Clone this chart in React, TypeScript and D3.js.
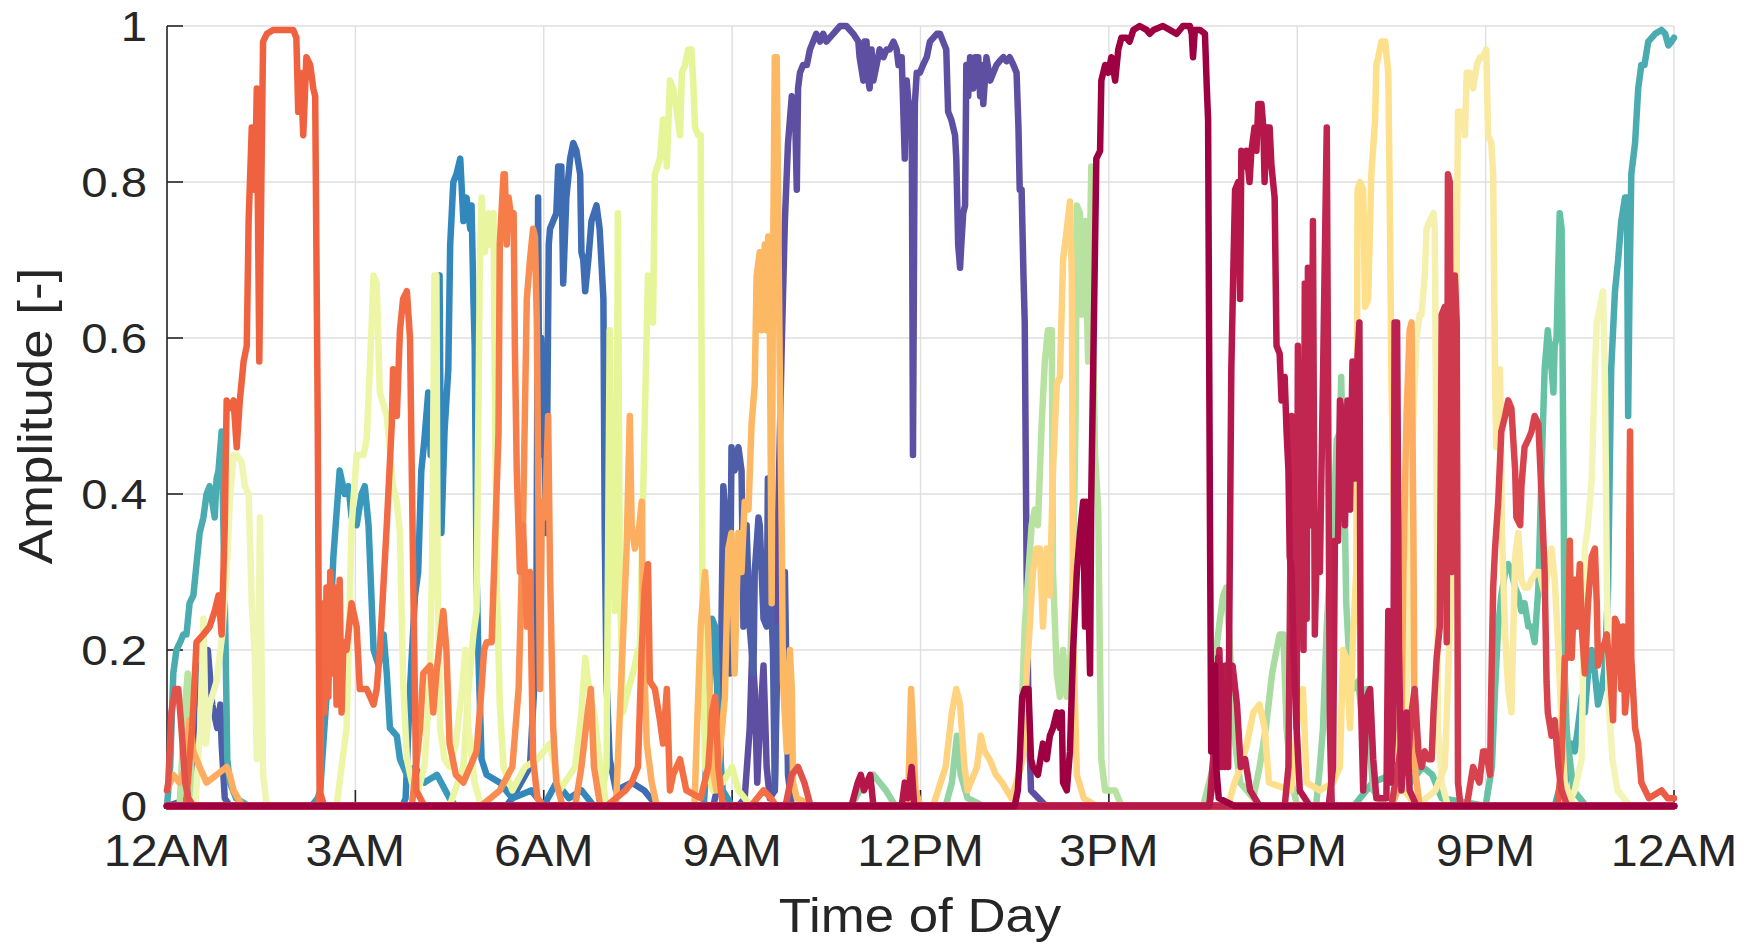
import React from 'react';
import * as d3 from 'd3';

const W = 1754;
const H = 944;
const PLOT = { left: 167, right: 1674, top: 26, bottom: 806 };

const xTicks = [0, 3, 6, 9, 12, 15, 18, 21, 24];
const xTickLabels = ['12AM', '3AM', '6AM', '9AM', '12PM', '3PM', '6PM', '9PM', '12AM'];
const yTicks = [0, 0.2, 0.4, 0.6, 0.8, 1];
const yTickLabels = ['0', '0.2', '0.4', '0.6', '0.8', '1'];

// Each series: flat list of [hour, amplitude] pairs
const sN = [0,0, 9.1,0, 9.2,0.01, 9.28,0.1, 9.32,0.2, 9.36,0.15, 9.4,0.03, 9.44,0.1, 9.5,0.18, 9.55,0.05, 9.6,0.01, 9.68,0.02, 9.73,0.36, 9.79,0.59, 9.84,0.75, 9.89,0.85, 9.95,0.91, 10.0,0.9, 10.03,0.79, 10.05,0.92, 10.08,0.94, 10.13,0.95, 10.19,0.95, 10.24,0.97, 10.29,0.98, 10.34,0.99, 10.4,0.98, 10.45,0.99, 10.5,0.98, 10.61,0.99, 10.72,1.0, 10.82,1.0, 10.93,0.99, 11.01,0.98, 11.03,0.96, 11.09,0.93, 11.11,0.98, 11.14,0.98, 11.17,0.93, 11.19,0.92, 11.22,0.97, 11.25,0.93, 11.3,0.95, 11.35,0.97, 11.41,0.96, 11.46,0.97, 11.51,0.97, 11.57,0.98, 11.62,0.97, 11.65,0.95, 11.67,0.96, 11.7,0.96, 11.75,0.83, 11.78,0.93, 11.83,0.88, 11.86,0.9, 11.88,0.45, 11.91,0.9, 11.94,0.94, 11.99,0.94, 12.04,0.95, 12.1,0.96, 12.15,0.98, 12.26,0.99, 12.31,0.99, 12.36,0.98, 12.41,0.97, 12.44,0.89, 12.49,0.88, 12.55,0.86, 12.57,0.83, 12.6,0.72, 12.63,0.69, 12.65,0.72, 12.68,0.76, 12.71,0.77, 12.73,0.95, 12.76,0.91, 12.79,0.96, 12.84,0.92, 12.87,0.96, 12.92,0.96, 12.95,0.91, 12.97,0.95, 13.0,0.9, 13.05,0.96, 13.11,0.93, 13.16,0.94, 13.21,0.95, 13.26,0.955, 13.32,0.96, 13.37,0.955, 13.42,0.96, 13.48,0.95, 13.53,0.94, 13.56,0.87, 13.58,0.79, 13.61,0.79, 13.64,0.68, 13.66,0.62, 13.69,0.3, 13.72,0.12, 13.76,0.02, 14.0,0, 24,0];
const sM = [0,0, 0.4,0.01, 0.45,0.17, 0.5,0.18, 0.55,0.12, 0.65,0.2, 0.72,0.13, 0.8,0.1, 0.85,0.13, 0.87,0.08, 0.92,0.01, 1.0,0, 8.7,0, 8.81,0.04, 8.83,0.23, 8.86,0.41, 8.91,0.36, 8.96,0.17, 8.99,0.46, 9.04,0.43, 9.1,0.46, 9.15,0.43, 9.18,0.23, 9.23,0.36, 9.28,0.23, 9.34,0.17, 9.36,0.3, 9.42,0.37, 9.44,0.36, 9.5,0.24, 9.55,0.23, 9.57,0.42, 9.6,0.3, 9.65,0.2, 9.68,0.02, 9.73,0.23, 9.79,0.23, 9.84,0.3, 9.89,0.04, 9.95,0, 24,0];
const sK = [0,0, 5.4,0, 5.5,0.01, 5.78,0.05, 5.88,0.2, 5.91,0.78, 5.93,0.45, 5.96,0.6, 6.0,0.5, 6.04,0.35, 6.08,0.72, 6.1,0.74, 6.15,0.75, 6.2,0.76, 6.23,0.82, 6.28,0.82, 6.31,0.67, 6.36,0.78, 6.42,0.83, 6.47,0.85, 6.52,0.84, 6.58,0.81, 6.6,0.71, 6.63,0.7, 6.66,0.66, 6.71,0.7, 6.76,0.75, 6.84,0.77, 6.89,0.74, 6.95,0.65, 6.97,0.36, 7.0,0.16, 7.05,0.06, 7.15,0.02, 7.4,0.03, 7.6,0.02, 7.8,0, 24,0];
const sF = [0,0, 3.75,0, 3.8,0.01, 3.87,0.15, 3.95,0.27, 4.0,0.3, 4.05,0.43, 4.1,0.47, 4.16,0.53, 4.2,0.45, 4.28,0.5, 4.34,0.68, 4.37,0.35, 4.42,0.48, 4.48,0.56, 4.51,0.72, 4.56,0.8, 4.61,0.81, 4.67,0.83, 4.72,0.75, 4.77,0.78, 4.83,0.74, 4.85,0.77, 4.88,0.65, 4.9,0.59, 4.93,0.3, 4.96,0.19, 5.01,0.06, 5.09,0.04, 5.3,0.03, 5.5,0.01, 5.8,0.02, 6.0,0.0, 6.2,0.03, 6.4,0.01, 6.6,0.02, 6.8,0, 24,0];
const sBB = [0,0, 2.3,0, 2.4,0.01, 2.44,0.02, 2.54,0.14, 2.6,0.23, 2.65,0.32, 2.75,0.43, 2.83,0.4, 2.89,0.41, 2.94,0.37, 3.02,0.36, 3.1,0.4, 3.15,0.41, 3.21,0.36, 3.29,0.2, 3.37,0.18, 3.45,0.22, 3.5,0.17, 3.55,0.1, 3.66,0.09, 3.71,0.06, 3.82,0.04, 3.95,0.05, 4.1,0.03, 4.3,0.04, 4.5,0.01, 4.6,0, 8.55,0, 8.62,0.1, 8.68,0.24, 8.73,0.23, 8.78,0.1, 8.85,0.02, 9.0,0, 24,0];
const sA = [0,0, 0.05,0.05, 0.1,0.17, 0.15,0.2, 0.21,0.21, 0.26,0.22, 0.31,0.22, 0.36,0.26, 0.42,0.27, 0.47,0.31, 0.52,0.35, 0.58,0.37, 0.63,0.4, 0.68,0.41, 0.72,0.39, 0.76,0.37, 0.79,0.42, 0.82,0.43, 0.87,0.48, 0.9,0.35, 0.93,0.22, 0.96,0.06, 1.0,0.03, 1.1,0.01, 1.3,0, 22.1,0, 22.2,0.03, 22.26,0.02, 22.31,0.06, 22.37,0.08, 22.42,0.07, 22.47,0.1, 22.53,0.14, 22.58,0.12, 22.63,0.17, 22.69,0.2, 22.74,0.17, 22.79,0.13, 22.85,0.15, 22.9,0.18, 22.95,0.28, 22.98,0.45, 23.0,0.56, 23.06,0.66, 23.11,0.7, 23.16,0.75, 23.22,0.78, 23.25,0.78, 23.27,0.5, 23.29,0.65, 23.32,0.81, 23.38,0.85, 23.43,0.92, 23.48,0.95, 23.53,0.95, 23.59,0.98, 23.7,0.99, 23.8,0.995, 23.86,0.99, 23.91,0.975, 23.96,0.98, 24.0,0.985];
const sAB = [0,0, 18.9,0, 19.2,0.03, 19.5,0.04, 19.7,0.02, 20.0,0.05, 20.15,0.04, 20.3,0.01, 21.0,0, 21.1,0.05, 21.15,0.15, 21.2,0.23, 21.25,0.27, 21.31,0.3, 21.36,0.31, 21.41,0.3, 21.47,0.28, 21.52,0.27, 21.57,0.25, 21.62,0.26, 21.68,0.23, 21.73,0.23, 21.78,0.21, 21.84,0.28, 21.89,0.43, 21.94,0.56, 21.99,0.61, 22.05,0.56, 22.08,0.53, 22.1,0.59, 22.13,0.6, 22.16,0.7, 22.18,0.76, 22.21,0.74, 22.24,0.42, 22.26,0.17, 22.29,0.1, 22.31,0.08, 22.4,0.02, 22.6,0, 24,0];
const sT = [0,0, 10.9,0, 11.1,0.03, 11.25,0.04, 11.35,0.03, 11.45,0.02, 11.6,0, 12.4,0, 12.5,0.03, 12.58,0.09, 12.64,0.04, 12.75,0.01, 13.0,0, 18.3,0, 18.36,0.05, 18.41,0.1, 18.47,0.23, 18.52,0.3, 18.57,0.36, 18.63,0.47, 18.68,0.48, 18.7,0.55, 18.73,0.42, 18.76,0.36, 18.78,0.26, 18.84,0.17, 18.89,0.15, 18.97,0.16, 19.05,0.1, 19.1,0.15, 19.16,0.07, 19.21,0.02, 19.4,0, 24,0];
const sU = [0,0, 16.5,0, 16.66,0.05, 16.71,0.2, 16.77,0.24, 16.82,0.27, 16.87,0.28, 16.93,0.2, 16.98,0.1, 17.09,0.03, 17.3,0.01, 17.4,0.05, 17.5,0.1, 17.6,0.17, 17.67,0.2, 17.72,0.22, 17.78,0.22, 17.83,0.1, 17.91,0.03, 18.0,0, 24,0];
const sP = [0,0, 0.2,0, 0.28,0.12, 0.33,0.17, 0.38,0.05, 0.45,0, 13.5,0, 13.58,0.05, 13.66,0.23, 13.72,0.3, 13.77,0.36, 13.82,0.38, 13.87,0.36, 13.93,0.49, 13.98,0.57, 14.03,0.61, 14.09,0.61, 14.11,0.3, 14.17,0.17, 14.22,0.14, 14.27,0.2, 14.33,0.14, 14.38,0.17, 14.43,0.3, 14.47,0.5, 14.49,0.77, 14.54,0.76, 14.57,0.63, 14.62,0.75, 14.67,0.57, 14.72,0.82, 14.75,0.6, 14.78,0.45, 14.83,0.38, 14.86,0.17, 14.88,0.06, 14.94,0.02, 15.1,0.02, 15.2,0, 24,0];
const sH = [0,0, 6.9,0, 7.0,0.05, 7.05,0.61, 7.08,0.4, 7.13,0.25, 7.16,0.35, 7.18,0.76, 7.21,0.3, 7.26,0.12, 7.35,0.15, 7.45,0.18, 7.5,0.2, 7.53,0.2, 7.58,0.39, 7.66,0.68, 7.72,0.65, 7.74,0.62, 7.77,0.81, 7.85,0.83, 7.9,0.88, 7.96,0.82, 8.01,0.93, 8.06,0.92, 8.12,0.89, 8.17,0.86, 8.2,0.94, 8.25,0.95, 8.3,0.97, 8.35,0.97, 8.38,0.93, 8.41,0.87, 8.46,0.86, 8.5,0.86, 8.53,0.22, 8.57,0.05, 8.7,0.02, 8.85,0.03, 9.0,0.05, 9.1,0.02, 9.3,0, 24,0];
const sG = [0,0, 4.5,0, 4.72,0.05, 4.8,0.15, 4.88,0.22, 4.93,0.25, 4.98,0.68, 5.01,0.78, 5.06,0.71, 5.12,0.76, 5.14,0.72, 5.2,0.76, 5.22,0.55, 5.25,0.29, 5.3,0.13, 5.36,0.05, 5.5,0.02, 5.7,0.05, 5.9,0.06, 6.1,0.08, 6.25,0.02, 6.5,0.05, 6.6,0.12, 6.66,0.19, 6.72,0.15, 6.8,0.12, 6.9,0.05, 7.0,0, 24,0];
const sE = [0,0, 2.7,0, 2.86,0.1, 2.94,0.36, 3.02,0.45, 3.13,0.45, 3.18,0.47, 3.23,0.56, 3.29,0.68, 3.34,0.67, 3.39,0.53, 3.5,0.5, 3.6,0.41, 3.66,0.39, 3.71,0.35, 3.76,0.16, 3.82,0.06, 3.9,0.03, 4.0,0.02, 4.1,0.05, 4.18,0.15, 4.22,0.3, 4.26,0.68, 4.29,0.68, 4.31,0.3, 4.35,0.1, 4.42,0.06, 4.5,0.05, 4.6,0.08, 4.7,0.15, 4.75,0.2, 4.8,0.1, 4.9,0.03, 5.0,0, 24,0];
const sD = [0,0, 0.45,0, 0.53,0.1, 0.58,0.24, 0.62,0.08, 0.68,0.13, 0.79,0.16, 0.88,0.22, 0.95,0.3, 1.0,0.39, 1.06,0.45, 1.11,0.45, 1.19,0.44, 1.24,0.41, 1.3,0.4, 1.35,0.26, 1.4,0.19, 1.43,0.06, 1.46,0.2, 1.48,0.37, 1.51,0.16, 1.53,0.04, 1.59,0, 24,0];
const sAC = [0,0, 22.3,0, 22.42,0.02, 22.53,0.06, 22.58,0.33, 22.63,0.36, 22.69,0.42, 22.74,0.56, 22.77,0.62, 22.82,0.64, 22.87,0.66, 22.9,0.55, 22.93,0.29, 22.96,0.13, 23.02,0.06, 23.1,0.02, 23.3,0, 24,0];
const sX = [0,0, 19.5,0, 19.65,0.05, 19.75,0.15, 19.8,0.35, 19.85,0.5, 19.9,0.6, 19.95,0.63, 19.98,0.63, 20.03,0.68, 20.06,0.74, 20.11,0.75, 20.17,0.76, 20.19,0.74, 20.22,0.39, 20.24,0.1, 20.3,0.03, 20.4,0, 24,0];
const sY = [0,0, 19.9,0, 20.2,0.02, 20.35,0.05, 20.4,0.16, 20.46,0.3, 20.51,0.42, 20.56,0.89, 20.62,0.89, 20.67,0.86, 20.7,0.94, 20.75,0.94, 20.8,0.92, 20.86,0.95, 20.91,0.96, 20.96,0.96, 21.01,0.97, 21.04,0.86, 21.09,0.85, 21.12,0.81, 21.15,0.55, 21.17,0.46, 21.23,0.56, 21.26,0.35, 21.31,0.22, 21.36,0.15, 21.41,0.12, 21.47,0.32, 21.52,0.35, 21.57,0.29, 21.62,0.28, 21.68,0.28, 21.73,0.29, 21.81,0.3, 21.86,0.3, 21.94,0.27, 21.99,0.3, 22.05,0.33, 22.1,0.29, 22.16,0.2, 22.21,0.1, 22.26,0.03, 22.4,0, 24,0];
const sV = [0,0, 16.9,0, 17.0,0.03, 17.1,0.05, 17.2,0.08, 17.3,0.12, 17.4,0.13, 17.48,0.1, 17.55,0.03, 17.9,0.02, 18.04,0.14, 18.09,0.15, 18.15,0.03, 18.36,0.02, 18.57,0.03, 18.68,0.05, 18.73,0.2, 18.78,0.19, 18.84,0.1, 18.89,0.22, 18.94,0.3, 18.96,0.79, 19.0,0.8, 19.05,0.79, 19.08,0.64, 19.13,0.65, 19.18,0.81, 19.24,0.88, 19.26,0.95, 19.29,0.96, 19.34,0.98, 19.4,0.98, 19.45,0.94, 19.47,0.8, 19.5,0.55, 19.53,0.41, 19.58,0.2, 19.62,0.06, 19.7,0.02, 19.9,0, 24,0];
const sQ = [0,0, 12.2,0, 12.4,0.05, 12.5,0.12, 12.57,0.15, 12.63,0.13, 12.7,0.05, 12.75,0.02, 12.9,0.05, 12.96,0.09, 13.02,0.07, 13.1,0.06, 13.2,0.04, 13.3,0.03, 13.45,0.01, 13.6,0.05, 13.64,0.07, 13.69,0.17, 13.74,0.23, 13.79,0.3, 13.85,0.33, 13.9,0.33, 13.95,0.23, 14.01,0.33, 14.06,0.27, 14.11,0.43, 14.17,0.54, 14.22,0.55, 14.27,0.7, 14.33,0.74, 14.38,0.775, 14.41,0.68, 14.43,0.23, 14.49,0.04, 14.6,0.01, 14.8,0, 24,0];
const sO = [0,0, 8.4,0, 8.45,0.12, 8.5,0.23, 8.57,0.3, 8.62,0.22, 8.68,0.05, 8.75,0.02, 8.885,0.14, 8.94,0.33, 8.99,0.35, 9.04,0.17, 9.1,0.35, 9.15,0.3, 9.2,0.39, 9.26,0.38, 9.31,0.49, 9.36,0.54, 9.39,0.68, 9.44,0.71, 9.47,0.61, 9.52,0.72, 9.55,0.61, 9.575,0.73, 9.6,0.62, 9.63,0.26, 9.65,0.68, 9.68,0.96, 9.71,0.96, 9.73,0.8, 9.76,0.55, 9.79,0.35, 9.81,0.16, 9.87,0.07, 9.89,0.15, 9.92,0.2, 9.95,0.15, 9.97,0.03, 10.03,0.01, 10.3,0, 11.8,0, 11.85,0.15, 11.88,0.1, 11.92,0.02, 12.0,0, 24,0];
const sL = [0,0, 7.15,0, 7.27,0.23, 7.32,0.33, 7.37,0.5, 7.4,0.36, 7.45,0.33, 7.51,0.35, 7.56,0.39, 7.58,0.23, 7.64,0.08, 7.72,0.03, 7.8,0, 24,0];
const sW = [0,0.02, 0.1,0.04, 0.2,0.03, 0.3,0.05, 0.36,0.11, 0.42,0.07, 0.52,0.05, 0.63,0.03, 0.95,0.05, 1.0,0.04, 1.06,0.02, 1.2,0, 19.5,0, 19.6,0.02, 19.66,0.1, 19.69,0.3, 19.74,0.5, 19.79,0.61, 19.82,0.62, 19.85,0.35, 19.87,0.05, 19.95,0, 24,0];
const sJ = [0,0, 5.0,0, 5.3,0.02, 5.5,0.05, 5.6,0.15, 5.67,0.36, 5.73,0.65, 5.78,0.7, 5.83,0.74, 5.86,0.73, 5.89,0.62, 5.91,0.43, 5.94,0.15, 5.97,0.39, 6.02,0.37, 6.07,0.5, 6.1,0.3, 6.15,0.1, 6.2,0.03, 6.3,0, 6.5,0, 6.6,0.05, 6.7,0.12, 6.75,0.15, 6.8,0.05, 6.9,0, 24,0];
const sI = [0,0, 3.9,0, 4.03,0.1, 4.08,0.17, 4.19,0.18, 4.24,0.12, 4.29,0.17, 4.4,0.25, 4.45,0.2, 4.5,0.08, 4.6,0.04, 4.72,0.03, 4.93,0.07, 5.0,0.14, 5.05,0.2, 5.09,0.21, 5.17,0.21, 5.22,0.33, 5.28,0.48, 5.3,0.72, 5.36,0.81, 5.38,0.81, 5.41,0.72, 5.44,0.78, 5.49,0.75, 5.52,0.76, 5.54,0.59, 5.57,0.43, 5.62,0.3, 5.67,0.36, 5.73,0.23, 5.78,0.3, 5.83,0.06, 5.9,0.01, 6.0,0, 24,0];
const sAF = [0,0, 7.0,0, 7.3,0.02, 7.4,0.03, 7.5,0.05, 7.56,0.2, 7.61,0.28, 7.66,0.31, 7.69,0.16, 7.77,0.15, 7.85,0.11, 7.9,0.08, 7.96,0.15, 8.01,0.02, 8.06,0.04, 8.17,0.06, 8.27,0.02, 8.5,0.01, 8.62,0.05, 8.68,0.12, 8.73,0.14, 8.78,0.05, 8.85,0, 9.3,0, 9.5,0.02, 9.62,0.01, 9.7,0, 24,0];
const sC = [0,0, 2.4,0, 2.44,0.02, 2.47,0.23, 2.49,0.26, 2.51,0.12, 2.54,0.28, 2.57,0.14, 2.6,0.3, 2.63,0.17, 2.67,0.28, 2.7,0.13, 2.75,0.29, 2.78,0.12, 2.81,0.21, 2.86,0.2, 2.94,0.26, 3.02,0.23, 3.07,0.15, 3.18,0.15, 3.29,0.13, 3.34,0.15, 3.39,0.2, 3.5,0.36, 3.58,0.49, 3.6,0.56, 3.66,0.5, 3.71,0.61, 3.76,0.65, 3.82,0.66, 3.87,0.6, 3.92,0.3, 3.97,0.02, 4.1,0, 24,0];
const sB = [0,0, 0.3,0, 0.4,0.1, 0.42,0.13, 0.47,0.21, 0.58,0.22, 0.68,0.23, 0.76,0.25, 0.82,0.27, 0.87,0.22, 0.92,0.36, 0.95,0.52, 1.0,0.51, 1.06,0.52, 1.11,0.46, 1.16,0.52, 1.22,0.57, 1.27,0.59, 1.3,0.75, 1.35,0.87, 1.4,0.79, 1.43,0.92, 1.47,0.57, 1.5,0.78, 1.53,0.98, 1.59,0.99, 1.69,0.995, 1.91,0.995, 2.01,0.995, 2.06,0.985, 2.09,0.89, 2.12,0.94, 2.14,0.92, 2.17,0.86, 2.22,0.96, 2.28,0.95, 2.33,0.92, 2.36,0.91, 2.4,0.5, 2.43,0.02, 2.5,0, 24,0];
const sAD = [0,0, 22.15,0, 22.21,0.06, 22.26,0.19, 22.31,0.19, 22.34,0.34, 22.37,0.19, 22.42,0.29, 22.45,0.23, 22.5,0.31, 22.53,0.23, 22.58,0.17, 22.63,0.26, 22.69,0.32, 22.74,0.33, 22.77,0.26, 22.79,0.18, 22.85,0.2, 22.9,0.21, 22.93,0.22, 22.98,0.17, 23.03,0.11, 23.06,0.24, 23.11,0.23, 23.16,0.15, 23.19,0.23, 23.22,0.12, 23.27,0.17, 23.3,0.48, 23.32,0.19, 23.38,0.1, 23.43,0.08, 23.48,0.03, 23.6,0.01, 23.8,0.02, 23.9,0.01, 24,0.01];
const sEA = [0,0.02, 0.02,0.03, 0.07,0.12, 0.13,0.15, 0.18,0.15, 0.23,0.1, 0.29,0.03, 0.34,0.01, 0.42,0, 9.85,0, 9.95,0.04, 10.05,0.05, 10.15,0.03, 10.25,0, 24,0];
const sAA = [0,0, 20.7,0, 20.8,0.05, 20.9,0.03, 20.96,0.07, 21.01,0.07, 21.07,0.04, 21.09,0.15, 21.12,0.28, 21.15,0.33, 21.2,0.39, 21.25,0.48, 21.31,0.5, 21.36,0.52, 21.41,0.51, 21.47,0.43, 21.49,0.37, 21.55,0.36, 21.57,0.41, 21.62,0.46, 21.68,0.47, 21.73,0.48, 21.78,0.5, 21.84,0.49, 21.89,0.4, 21.94,0.3, 21.97,0.16, 21.99,0.12, 22.05,0.09, 22.1,0.11, 22.16,0.05, 22.21,0.02, 22.3,0, 24,0];
const sZ = [0,0, 19.5,0, 19.6,0.05, 19.7,0.1, 19.76,0.05, 19.82,0.12, 19.87,0.15, 19.93,0.07, 19.98,0.05, 20.03,0.07, 20.09,0.06, 20.14,0.06, 20.17,0.12, 20.22,0.19, 20.27,0.23, 20.3,0.63, 20.35,0.64, 20.38,0.21, 20.4,0.81, 20.43,0.8, 20.46,0.3, 20.51,0.68, 20.54,0.62, 20.56,0.03, 20.6,0, 24,0];
const sS3 = [0,0, 16.6,0, 16.7,0.1, 16.76,0.2, 16.8,0.05, 16.86,0.18, 16.92,0.15, 16.97,0.18, 17.04,0.13, 17.1,0.05, 17.17,0.06, 17.25,0.02, 17.4,0, 18.5,0, 18.57,0.05, 18.6,0.34, 18.65,0.34, 18.68,0.52, 18.72,0.5, 18.76,0.36, 18.8,0.52, 18.84,0.38, 18.88,0.57, 18.92,0.42, 18.95,0.56, 18.99,0.62, 19.01,0.15, 19.05,0.02, 19.11,0.14, 19.16,0.15, 19.21,0.06, 19.26,0.01, 19.42,0.01, 19.45,0.25, 19.49,0.03, 19.53,0.1, 19.55,0.62, 19.59,0.62, 19.62,0.2, 19.66,0.02, 19.74,0.12, 19.79,0.02, 19.9,0, 24,0];
const sS2 = [0,0, 17.8,0, 17.86,0.05, 17.88,0.22, 17.91,0.5, 17.94,0.25, 17.96,0.45, 17.99,0.1, 18.01,0.59, 18.04,0.25, 18.07,0.45, 18.1,0.2, 18.12,0.67, 18.15,0.24, 18.17,0.69, 18.2,0.36, 18.23,0.45, 18.25,0.75, 18.28,0.22, 18.31,0.33, 18.36,0.3, 18.41,0.55, 18.47,0.87, 18.49,0.55, 18.52,0.1, 18.55,0, 24,0];
const sS1 = [0,0, 10.9,0, 11.0,0.03, 11.05,0.04, 11.1,0.02, 11.2,0.04, 11.25,0, 11.7,0, 11.75,0.03, 11.8,0.01, 11.86,0.05, 11.9,0, 16.6,0, 16.69,0.05, 16.74,0.19, 16.77,0.05, 16.79,0.18, 16.85,0.05, 16.87,0.15, 16.9,0.05, 16.93,0.36, 16.95,0.56, 16.98,0.68, 17.01,0.79, 17.06,0.8, 17.09,0.65, 17.11,0.84, 17.17,0.82, 17.19,0.84, 17.24,0.8, 17.27,0.84, 17.32,0.87, 17.35,0.84, 17.38,0.9, 17.43,0.9, 17.46,0.87, 17.48,0.8, 17.51,0.87, 17.56,0.87, 17.59,0.82, 17.64,0.78, 17.67,0.59, 17.72,0.58, 17.75,0.52, 17.8,0.55, 17.83,0.48, 17.86,0.43, 17.88,0.32, 17.91,0.3, 17.94,0.2, 17.99,0.1, 18.04,0.02, 18.2,0, 24,0];
const sR = [0,0, 13.5,0, 13.55,0.02, 13.58,0.06, 13.62,0.14, 13.66,0.15, 13.72,0.15, 13.76,0.06, 13.79,0.05, 13.87,0.04, 13.95,0.08, 14.01,0.06, 14.06,0.09, 14.11,0.1, 14.17,0.12, 14.22,0.1, 14.25,0.12, 14.27,0.03, 14.33,0.02, 14.38,0.07, 14.43,0.2, 14.49,0.3, 14.54,0.35, 14.59,0.39, 14.62,0.23, 14.64,0.39, 14.7,0.17, 14.72,0.4, 14.75,0.56, 14.78,0.72, 14.8,0.83, 14.86,0.84, 14.88,0.93, 14.94,0.95, 14.99,0.94, 15.04,0.96, 15.1,0.93, 15.15,0.97, 15.2,0.985, 15.28,0.985, 15.33,0.98, 15.39,0.995, 15.49,1.0, 15.6,0.995, 15.65,0.99, 15.71,0.995, 15.86,1.0, 15.97,0.995, 16.08,0.99, 16.18,1.0, 16.29,1.0, 16.32,0.99, 16.34,0.96, 16.37,0.995, 16.45,0.995, 16.53,0.99, 16.56,0.92, 16.58,0.88, 16.61,0.36, 16.63,0.07, 16.66,0.18, 16.69,0.18, 16.71,0.05, 16.75,0.01, 17.0,0, 24,0];

// Drawing order (first drawn = bottom) and colours
const seriesData = [sN, sM, sK, sF, sBB, sA, sAB, sT, sU, sP, sH, sG, sE, sD, sAC, sX, sY, sV, sQ, sO, sL, sW, sJ, sI, sAF, sC, sB, sAD, sEA, sAA, sZ, sS3, sS2, sS1, sR];
const seriesColors = ['#5e4fa2', '#4f5ea9', '#3e6db4', '#3288bd', '#3a98bb', '#4aabb0', '#66c2a5', '#93d3a4', '#aadca1', '#b8e2a0', '#e6f598', '#e9f59f', '#ecf6a6', '#eff5b2', '#f3f5b6', '#f6f0ae', '#f9e9a1', '#fee08b', '#fed27f', '#fdb863', '#fdae61', '#fdac60', '#f98e52', '#f67c4a', '#f47044', '#f26a43', '#f0623f', '#ea5c45', '#e1524a', '#d8444e', '#d03a4e', '#bc2150', '#c02650', '#b5174a', '#9e0142'];

const FONT = "'Liberation Sans', Arial, Helvetica, sans-serif";
const TEXT = '#262626';

function toPairs(flat: number[]): [number, number][] {
  const out: [number, number][] = [];
  for (let i = 0; i + 1 < flat.length; i += 2) out.push([flat[i], flat[i + 1]]);
  return out;
}

export default function App() {
  const x = d3.scaleLinear().domain([0, 24]).range([PLOT.left, PLOT.right]);
  const y = d3.scaleLinear().domain([0, 1]).range([PLOT.bottom, PLOT.top]);
  const line = d3
    .line<[number, number]>()
    .x((d) => x(d[0]))
    .y((d) => y(d[1]));

  return (
    <svg
      width={W}
      height={H}
      style={{ position: 'absolute', left: 0, top: 0, background: '#fff' }}
      fontFamily={FONT}
    >
      <rect x={0} y={0} width={W} height={H} fill="#ffffff" />
      {/* grid */}
      {xTicks.map((t) => (
        <line key={'gx' + t} x1={x(t)} x2={x(t)} y1={y(0)} y2={y(1)} stroke="#dfdfdf" strokeWidth={1.4} />
      ))}
      {yTicks.map((t) => (
        <line key={'gy' + t} x1={x(0)} x2={x(24)} y1={y(t)} y2={y(t)} stroke="#dfdfdf" strokeWidth={1.4} />
      ))}
      {/* axes */}
      <line x1={x(0)} x2={x(0)} y1={y(0)} y2={y(1)} stroke={TEXT} strokeWidth={1.6} />
      <line x1={x(0)} x2={x(24)} y1={y(0)} y2={y(0)} stroke={TEXT} strokeWidth={1.6} />
      {yTicks.map((t) => (
        <line key={'ty' + t} x1={x(0)} x2={x(0) + 16} y1={y(t)} y2={y(t)} stroke={TEXT} strokeWidth={1.6} />
      ))}
      {xTicks.map((t) => (
        <line key={'tx' + t} x1={x(t)} x2={x(t)} y1={y(0)} y2={y(0) - 16} stroke={TEXT} strokeWidth={1.6} />
      ))}
      {/* series */}
      <g fill="none" strokeWidth={6.5} strokeLinejoin="round" strokeLinecap="round">
        {seriesData.map((s, i) => (
          <path key={'s' + i} d={line(toPairs(s)) || ''} stroke={seriesColors[i]} />
        ))}
      </g>
      {/* tick labels */}
      {yTicks.map((t, i) => (
        <text
          key={'ly' + t}
          transform={`translate(147,${y(t) + 15}) scale(1.1,1)`}
          textAnchor="end"
          fontSize={43}
          fill={TEXT}
        >
          {yTickLabels[i]}
        </text>
      ))}
      {xTicks.map((t, i) => (
        <text
          key={'lx' + i}
          transform={`translate(${x(t)},866) scale(1.1,1)`}
          textAnchor="middle"
          fontSize={44}
          fill={TEXT}
        >
          {xTickLabels[i]}
        </text>
      ))}
      {/* axis labels */}
      <text transform="translate(920,932) scale(1.1,1)" textAnchor="middle" fontSize={48} fill={TEXT}>
        Time of Day
      </text>
      <text transform="translate(52,416) rotate(-90) scale(1.1,1)" textAnchor="middle" fontSize={48} fill={TEXT}>
        Amplitude [-]
      </text>
    </svg>
  );
}
